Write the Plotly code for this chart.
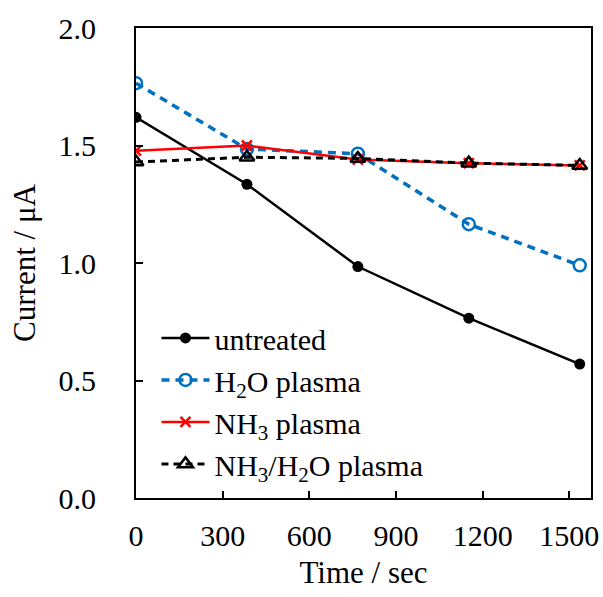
import plotly.graph_objects as go

time_s = [0, 384, 768, 1152, 1536]
untreated = [1.62, 1.335, 0.985, 0.765, 0.57]
h2o_plasma = [1.765, 1.485, 1.465, 1.165, 0.99]
nh3_plasma = [1.478, 1.50, 1.44, 1.425, 1.415]
nh3_h2o_plasma = [1.43, 1.45, 1.445, 1.425, 1.415]

names = ["untreated", "H<sub>2</sub>O plasma", "NH<sub>3</sub> plasma",
         "NH<sub>3</sub>/H<sub>2</sub>O plasma"]
x_ticks = [0, 300, 600, 900, 1200, 1500]
y_ticks = [0.0, 0.5, 1.0, 1.5, 2.0]

FONT = "Liberation Serif"

fig = go.Figure()
fig.add_trace(go.Scatter(x=time_s, y=untreated, name=names[0], mode="lines+markers",
                         line=dict(color="black", width=2.5),
                         marker=dict(symbol="circle", size=11, color="black")))
fig.add_trace(go.Scatter(x=time_s, y=h2o_plasma, name=names[1], mode="lines+markers",
                         line=dict(color="#0070C0", width=3.5, dash="8px,6px"),
                         marker=dict(symbol="circle-open", size=12, color="#0070C0",
                                     line=dict(width=2.5, color="#0070C0"))))
fig.add_trace(go.Scatter(x=time_s, y=nh3_plasma, name=names[2], mode="lines+markers",
                         line=dict(color="#FF0000", width=2.5),
                         marker=dict(symbol="x-thin-open", size=10, color="#FF0000",
                                     line=dict(width=2.5, color="#FF0000"))))
fig.add_trace(go.Scatter(x=time_s, y=nh3_h2o_plasma, name=names[3], mode="lines+markers",
                         line=dict(color="black", width=3, dash="7px,5px"),
                         marker=dict(symbol="triangle-up-open", size=13, color="black",
                                     line=dict(width=2.5, color="black"))))

axis_common = dict(showline=True, linecolor="black", linewidth=2, mirror=True,
                   ticks="inside", ticklen=7, tickwidth=1.5, tickcolor="black",
                   showgrid=False, zeroline=False, automargin=False,
                   tickfont=dict(family=FONT, size=30, color="black"),
                   title_font=dict(family=FONT, size=31, color="black"))

fig.update_layout(
    width=603, height=597,
    margin=dict(l=136, r=12, t=28, b=99),
    paper_bgcolor="white", plot_bgcolor="white",
    font=dict(family=FONT, color="black"),
    xaxis=dict(range=[0, 1575], tickvals=x_ticks, ticktext=[str(v) for v in x_ticks],
               title=dict(text="Time / sec", standoff=10), ticklabelstandoff=10,
               **axis_common),
    yaxis=dict(range=[0, 2.0], tickvals=y_ticks, ticktext=[f"{v:.1f}" for v in y_ticks],
               title=dict(text="Current / μA", standoff=14), ticklabelstandoff=32,
               **axis_common),
    legend=dict(x=0.045, y=0.396, xanchor="left", yanchor="top",
                font=dict(family=FONT, size=30, color="black"),
                bgcolor="rgba(0,0,0,0)", tracegroupgap=0, itemwidth=48),
    showlegend=True,
)

fig.write_html("out.html")
